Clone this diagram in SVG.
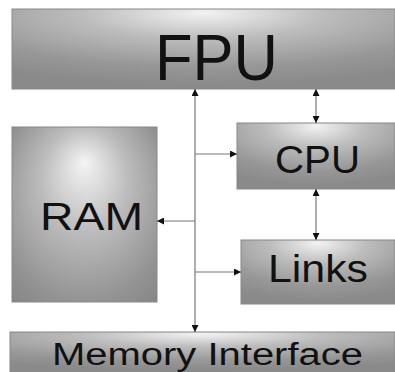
<svg xmlns="http://www.w3.org/2000/svg" width="395" height="372" viewBox="0 0 395 372">
<defs>
<radialGradient id="g1" cx="0.5" cy="0.05" r="0.9" fx="0.5" fy="0.05">
<stop offset="0" stop-color="#f2f2f2"/>
<stop offset="0.35" stop-color="#bdbdbd"/>
<stop offset="0.75" stop-color="#979797"/>
<stop offset="1" stop-color="#8a8a8a"/>
</radialGradient>
<radialGradient id="g2" cx="0.5" cy="0.45" r="0.75" fx="0.5" fy="0.2">
<stop offset="0" stop-color="#f4f4f4"/>
<stop offset="0.4" stop-color="#bcbcbc"/>
<stop offset="0.8" stop-color="#939393"/>
<stop offset="1" stop-color="#858585"/>
</radialGradient>
<marker id="ah" viewBox="0 0 10 10" refX="10" refY="5" markerWidth="7" markerHeight="7" markerUnits="userSpaceOnUse" orient="auto-start-reverse">
<path d="M0,0 L10,5 L0,10 z" fill="#111"/>
</marker>
</defs>
<style>
.box{stroke:#888;stroke-width:1}
.lbl{font-family:"Liberation Sans","DejaVu Sans",sans-serif;fill:#111}
.conn line{stroke:#777;stroke-width:1.2;fill:none}
</style>
<g id="fpu"><rect class="box" x="12" y="9" width="383" height="80" fill="url(#g1)"/><text class="lbl" x="155" y="80" font-size="64" textLength="123" lengthAdjust="spacingAndGlyphs">FPU</text></g>
<g id="ram"><rect class="box" x="12" y="127" width="145" height="175" fill="url(#g2)"/><text class="lbl" x="40" y="230" font-size="39" textLength="103" lengthAdjust="spacingAndGlyphs">RAM</text></g>
<g id="cpu"><rect class="box" x="237" y="123" width="158" height="66" fill="url(#g1)"/><text class="lbl" x="275" y="173" font-size="39" textLength="85" lengthAdjust="spacingAndGlyphs">CPU</text></g>
<g id="links"><rect class="box" x="241" y="240" width="154" height="64" fill="url(#g1)"/><text class="lbl" x="268" y="282" font-size="39" textLength="100" lengthAdjust="spacingAndGlyphs">Links</text></g>
<g id="memif"><rect class="box" x="10" y="332" width="385" height="40" fill="url(#g1)"/><text class="lbl" x="52" y="365" font-size="31" textLength="311" lengthAdjust="spacingAndGlyphs">Memory Interface</text></g>
<g id="connectors" class="conn">
<line x1="195" y1="89" x2="195" y2="332" marker-start="url(#ah)" marker-end="url(#ah)"/>
<line x1="195" y1="154" x2="237" y2="154" marker-end="url(#ah)"/>
<line x1="195" y1="221" x2="157" y2="221" marker-end="url(#ah)"/>
<line x1="195" y1="272" x2="241" y2="272" marker-end="url(#ah)"/>
<line x1="316" y1="89" x2="316" y2="123" marker-start="url(#ah)" marker-end="url(#ah)"/>
<line x1="316" y1="189" x2="316" y2="240" marker-start="url(#ah)" marker-end="url(#ah)"/>
</g>
</svg>
